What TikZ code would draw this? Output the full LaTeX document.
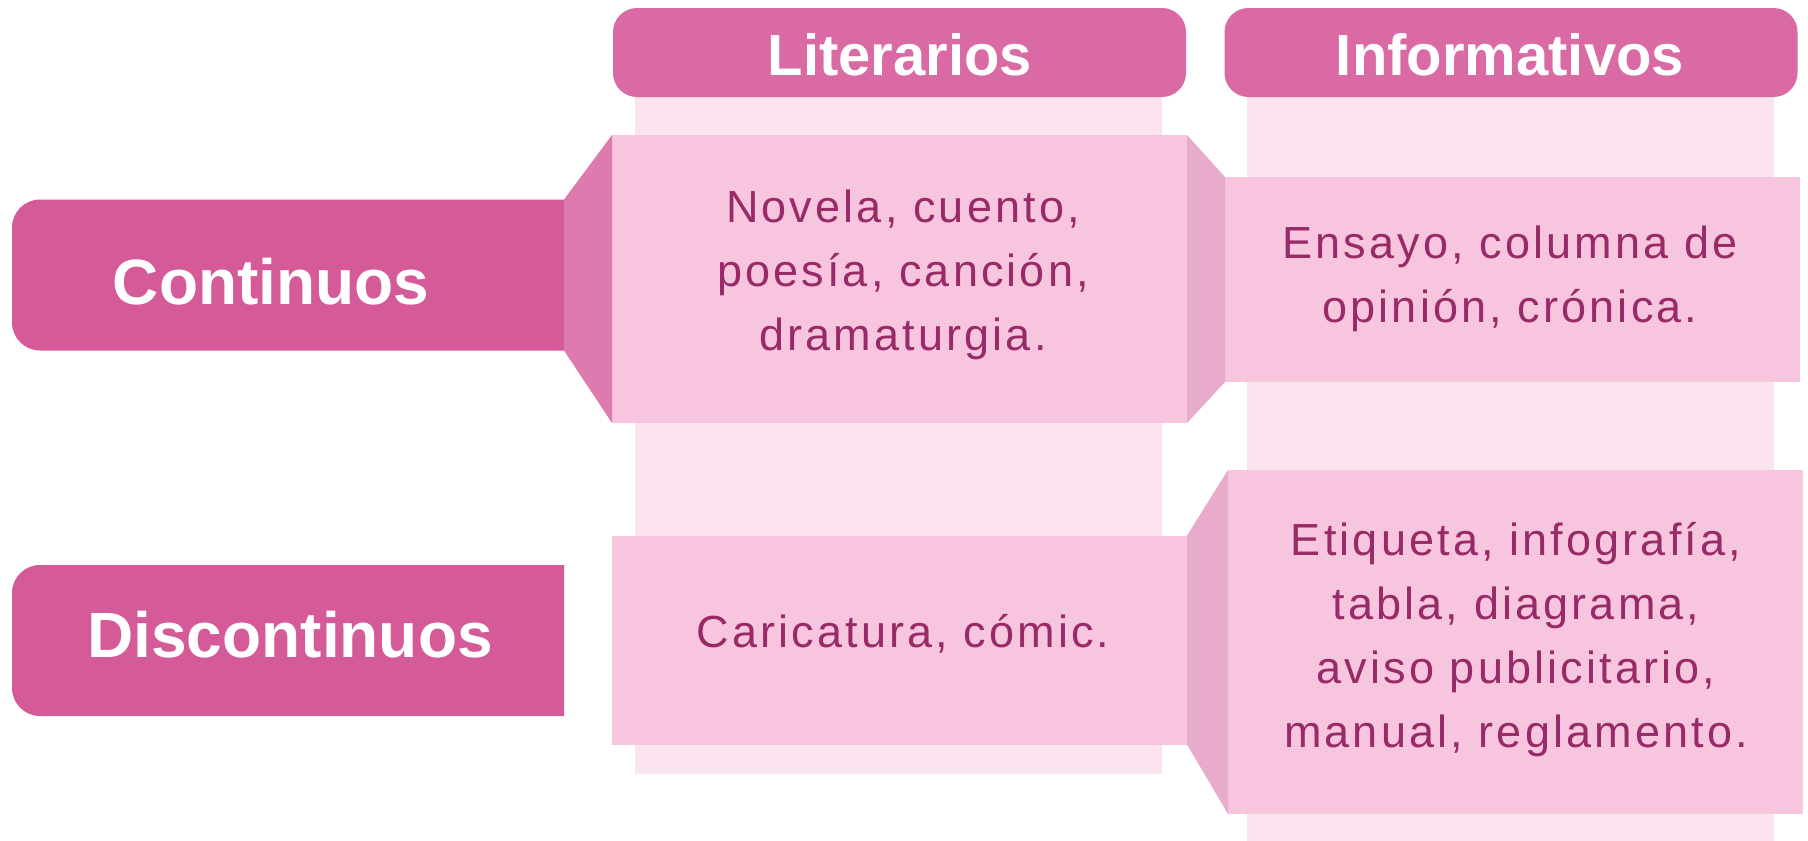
\documentclass[tikz,border=0pt]{standalone}
\usepackage{fontspec}
\setmainfont{Liberation Sans}
\newfontfamily\bodyfont[LetterSpace=7]{Liberation Sans}
\definecolor{hdrcol}{HTML}{DA6AA3}
\definecolor{labcol}{HTML}{D55B98}
\definecolor{trapa}{HTML}{DE7BAE}
\definecolor{trapb}{HTML}{E9ABCB}
\definecolor{boxcol}{HTML}{F7C5DD}
\definecolor{colcol}{HTML}{FBE3EF}
\definecolor{txtcol}{HTML}{982A68}
\tikzset{
  shapebox/.style={rectangle, draw=none, inner sep=0pt, outer sep=0pt},
  hdrbox/.style={shapebox, fill=hdrcol, rounded corners=24pt, minimum width=573pt, minimum height=89pt},
  colbox/.style={shapebox, fill=colcol, minimum width=527pt},
  cbox/.style={shapebox, fill=boxcol, minimum width=575pt},
  labbox/.style={shapebox, minimum width=552pt, minimum height=151pt},
  labshape/.style={fill=labcol},
  hdrtxt/.style={anchor=base, inner sep=0pt, text=white, font=\bfseries\fontsize{58}{64}\selectfont},
  labtxt/.style={anchor=base, inner sep=0pt, text=white, font=\bfseries\fontsize{64}{70}\selectfont},
  bodytxt/.style={anchor=base, inner sep=0pt, align=center, text=txtcol, font=\bodyfont\fontsize{45}{64}\selectfont}
}
\begin{document}
\begin{tikzpicture}[x=1pt,y=-1pt]
\useasboundingbox (0,0) rectangle (1808,841);
% light columns
\node[colbox, minimum height=684pt] (col1) at (898.5,432) {};
\node[colbox, minimum height=751pt] (col2) at (1510,465.5) {};
% headers
\node[hdrbox] (hlit) at (899.5,52.5) {};
\node[hdrbox] (hinf) at (1511,52.5) {};
% content boxes
\node[cbox, minimum height=288pt] (lit1) at (899.5,279) {};
\node[cbox, minimum height=205pt] (inf1) at (1512.5,279.5) {};
\node[cbox, minimum height=209pt] (lit2) at (899.5,640) {};
\node[cbox, minimum height=344pt] (inf2) at (1515.5,642) {};
% row labels (rounded on the left only)
\node[labbox] (cont) at (288,275) {};
\fill[labshape] (cont.north east) -- ([xshift=28pt]cont.north west)
  arc[start angle=270, end angle=180, radius=28] -- ([yshift=28pt]cont.south west)
  arc[start angle=180, end angle=90, radius=28] -- (cont.south east) -- cycle;
\node[labbox] (disc) at (288,640.5) {};
\fill[labshape] (disc.north east) -- ([xshift=28pt]disc.north west)
  arc[start angle=270, end angle=180, radius=28] -- ([yshift=28pt]disc.south west)
  arc[start angle=180, end angle=90, radius=28] -- (disc.south east) -- cycle;
% connectors (trapezoids)
\fill[trapa] (cont.north east) -- (lit1.north west) -- (lit1.south west) -- (cont.south east) -- cycle;
\fill[trapb] (lit1.north east) -- (inf1.north west) -- (inf1.south west) -- (lit1.south east) -- cycle;
\fill[trapb] (lit2.north east) -- (inf2.north west) -- (inf2.south west) -- (lit2.south east) -- cycle;
% texts (base = baseline of last line)
\node[hdrtxt] (tlit) at (900,75) {Literarios};
\node[hdrtxt] (tinf) at (1510,75) {Informativos};
\node[labtxt] (tcont) at (271,304) {Continuos};
\node[labtxt] (tdisc) at (290,657) {Discontinuos};
\node[bodytxt] (tlit1) at (903,350) {Novela, cuento,\\poesía, canción,\\dramaturgia.};
\node[bodytxt] (tinf1) at (1510,322) {Ensayo, columna de\\opinión, crónica.};
\node[bodytxt] (tlit2) at (903,647) {Caricatura, cómic.};
\node[bodytxt] (tinf2) at (1516,747) {Etiqueta, infografía,\\tabla, diagrama,\\aviso publicitario,\\manual, reglamento.};
\end{tikzpicture}
\end{document}
